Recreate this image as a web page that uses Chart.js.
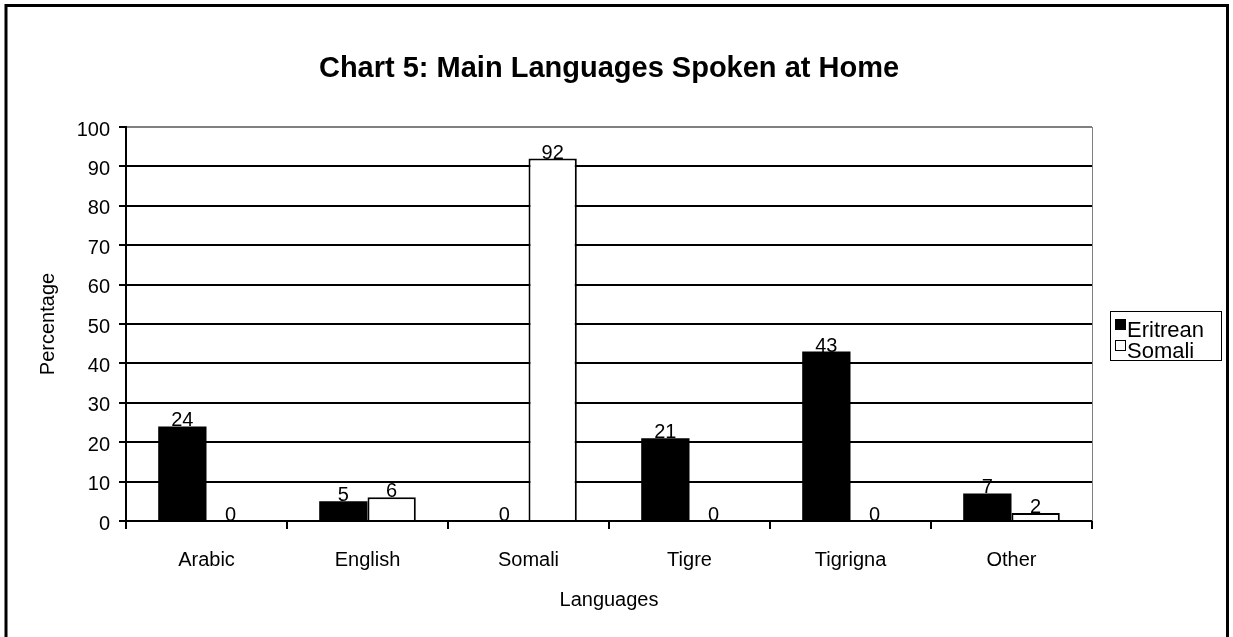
<!DOCTYPE html>
<html>
<head>
<meta charset="utf-8">
<script src="https://cdn.jsdelivr.net/npm/chart.js@4.4.0/dist/chart.umd.min.js"></script>
<style>
  html, body { margin: 0; padding: 0; background: #fff; }
  canvas { display: block; }
</style>
</head>
<body>
<canvas id="myChart" width="1233" height="637"></canvas>
<script>
// data
var languages = ['Arabic', 'English', 'Somali', 'Tigre', 'Tigrigna', 'Other'];
var eritrean = [24, 5, 0, 21, 43, 7];
var somali = [0, 6, 92, 0, 0, 2];
var seriesNames = ['Eritrean', 'Somali'];
var chartTitle = 'Chart 5: Main Languages Spoken at Home';

var fontFamily = '"Liberation Sans", Arial, Helvetica, sans-serif';
Chart.defaults.font.family = fontFamily;
Chart.defaults.color = '#000';

// outer frame, title and the grey plot edge
var framePlugin = {
  id: 'frame',
  beforeDraw: function(chart) {
    var c = chart.ctx;
    c.save();
    c.fillStyle = '#fff';
    c.fillRect(0, 0, chart.width, chart.height);
    c.strokeStyle = '#000';
    c.lineWidth = 3;
    c.beginPath();
    c.moveTo(6, chart.height + 3);
    c.lineTo(6, 5.5);
    c.lineTo(1227.5, 5.5);
    c.lineTo(1227.5, chart.height + 3);
    c.stroke();
    c.font = 'bold 29px ' + fontFamily;
    c.fillStyle = '#000';
    c.textAlign = 'center';
    c.textBaseline = 'alphabetic';
    var a = chart.chartArea;
    c.fillText(chartTitle, (a.left + a.right) / 2, 77);
    c.restore();
  },
  beforeDatasetsDraw: function(chart) {
    var a = chart.chartArea, c = chart.ctx;
    c.save();
    c.strokeStyle = '#808080';
    c.lineWidth = 1;
    c.beginPath();
    c.moveTo(a.right + 0.5, a.top);
    c.lineTo(a.right + 0.5, a.bottom);
    c.stroke();
    c.restore();
  }
};

// numbers on top of the bars
var valuePlugin = {
  id: 'values',
  afterDatasetsDraw: function(chart) {
    var c = chart.ctx;
    c.save();
    c.font = '20px ' + fontFamily;
    c.fillStyle = '#000';
    c.textAlign = 'center';
    c.textBaseline = 'alphabetic';
    chart.data.datasets.forEach(function(ds, i) {
      chart.getDatasetMeta(i).data.forEach(function(bar, j) {
        c.fillText(String(ds.data[j]), bar.x, bar.y);
      });
    });
    c.restore();
  }
};

// boxed legend on the right
var legendPlugin = {
  id: 'sideLegend',
  afterDraw: function(chart) {
    var c = chart.ctx;
    var x0 = chart.chartArea.right + 18, y0 = 311, w = 111, h = 49;
    c.save();
    c.strokeStyle = '#000';
    c.lineWidth = 1;
    c.strokeRect(x0 + 0.5, y0 + 0.5, w, h);
    c.font = '22px ' + fontFamily;
    c.textAlign = 'left';
    c.textBaseline = 'alphabetic';
    chart.data.datasets.forEach(function(ds, i) {
      var rowY = y0 + 8 + i * 21;
      c.fillStyle = ds.backgroundColor;
      c.fillRect(x0 + 5, rowY, 11, 11);
      c.strokeStyle = '#000';
      c.strokeRect(x0 + 5.5, rowY + 0.5, 10, 10);
      c.fillStyle = '#000';
      c.fillText(ds.label, x0 + 17, rowY + 18);
    });
    c.restore();
  }
};

var chart = new Chart('myChart', {
  type: 'bar',
  data: {
    labels: languages,
    datasets: [
      {
        label: seriesNames[0],
        data: eritrean,
        backgroundColor: '#000',
        borderColor: '#000',
        borderWidth: 0
      },
      {
        label: seriesNames[1],
        data: somali,
        backgroundColor: '#fff',
        borderColor: '#000',
        borderWidth: 2
      }
    ]
  },
  options: {
    responsive: false,
    animation: false,
    devicePixelRatio: 1,
    categoryPercentage: 0.6,
    barPercentage: 1,
    layout: { padding: { top: 127, right: 141, bottom: 0, left: 0 } },
    plugins: {
      legend: { display: false },
      tooltip: { enabled: false }
    },
    scales: {
      x: {
        afterFit: function(s) { s.height = 116; },
        ticks: { font: { size: 20 }, color: '#000', padding: 19, maxRotation: 0, autoSkip: false },
        grid: { drawOnChartArea: false, drawTicks: true, tickLength: 8, color: '#000', lineWidth: 2, offset: true },
        border: { color: '#000', width: 2 },
        title: { display: true, text: 'Languages', font: { size: 20 }, color: '#000', padding: { top: 0, bottom: 25 } }
      },
      y: {
        min: 0,
        max: 100,
        afterFit: function(s) { s.width = 126; },
        ticks: { stepSize: 10, font: { size: 20 }, color: '#000', padding: 9, labelOffset: 3 },
        grid: {
          color: function(ctx) { return ctx.tick && ctx.tick.value === 100 ? '#808080' : '#000'; },
          tickColor: '#000',
          lineWidth: 2,
          tickLength: 7
        },
        border: { color: '#000', width: 2 },
        title: { display: true, text: 'Percentage', font: { size: 20 }, color: '#000', padding: { top: 36, bottom: 0 } }
      }
    }
  },
  plugins: [framePlugin, valuePlugin, legendPlugin]
});
</script>
</body>
</html>
